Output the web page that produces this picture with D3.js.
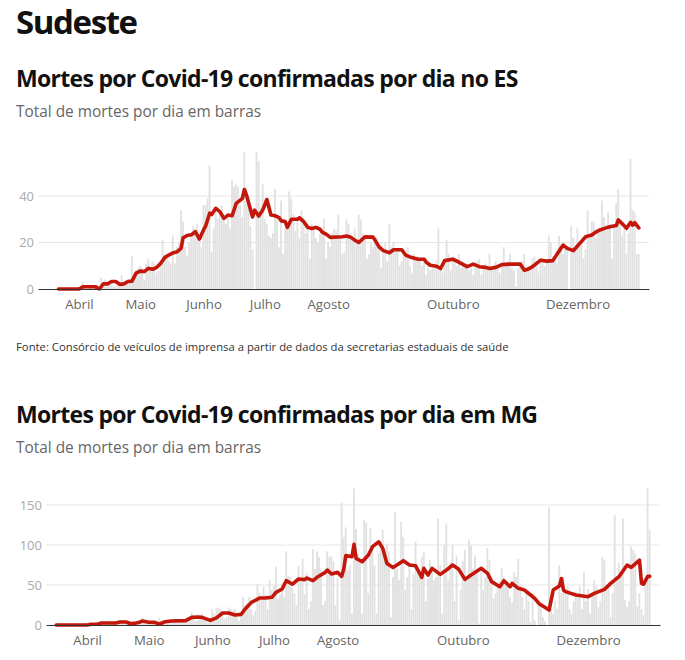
<!DOCTYPE html>
<html>
<head>
<meta charset="utf-8">
<script src="https://cdn.jsdelivr.net/npm/d3@7"></script>
<style>
  body { margin: 0; background: #fff; }
  text { font-family: "Open Sans", sans-serif; }
</style>
</head>
<body>
<script>
// mortes diarias (barras) e media movel (linha)
var esStart = [3, 22];
var esBars = [
  0,0,0,0,0,0,0,  0,0,0,0,1,3,1,  0,1,2,1,1,2,0,  5,1,4,2,3,2,1,
  1,2,2,6,3,2,4,  3,14,6,8,9,10,9,  4,11,13,9,12,11,7,  8,12,21,15,14,12,11,
  23,11,18,20,34,29,18,  14,20,24,27,26,28,22,  18,36,36,39,53,16,26,  35,30,33,36,31,28,30,
  26,47,44,45,44,36,31,  59,44,40,27,17,0,59,  55,35,45,30,28,23,22,  24,43,30,18,38,15,26,
  28,42,39,32,25,30,22,  34,31,24,28,13,28,26,  22,20,24,26,30,13,20,  18,24,26,25,32,22,15,
  16,30,28,24,22,26,20,  32,30,24,22,13,15,20,  18,20,22,17,9,16,20,  12,28,18,20,16,17,10,
  12,17,14,18,10,7,15,  12,14,13,10,12,6,11,  8,9,10,12,26,8,7,  11,21,15,8,14,12,10,
  15,9,12,11,10,8,9,  6,10,12,13,6,9,11,  9,15,10,8,12,9,7,  11,18,10,12,15,9,8,
  1,9,10,12,15,8,10,  9,13,14,12,7,11,13,  10,12,23,20,14,12,11,  23,17,15,19,18,0,27,
  22,18,26,20,19,13,17,  34,24,29,29,22,24,26,  38,31,25,33,28,13,28,  37,43,30,23,28,15,24,
  56,34,33,15,15
];
var esLine = [
  [3,22,0],[4,1,0],[4,2,0.4],[4,3,1],[4,9,1],[4,11,0],[4,13,2.2],[4,15,2.2],[4,17,3.2],[4,19,3.2],
  [4,21,2],[4,23,2.2],[4,25,3.2],[4,27,3.4],[4,29,6.8],[5,1,7.7],[5,3,7.5],[5,5,8.9],[5,7,8.5],
  [5,9,9.2],[5,11,11],[5,13,13.5],[5,15,14.6],[5,17,15.5],[5,19,16],[5,21,17.5],[5,22,22],
  [5,24,23],[5,26,23.3],[5,28,24.7],[5,30,21.5],[6,1,25.4],[6,2,27],[6,4,32.6],[6,5,32],
  [6,7,34.7],[6,9,33.3],[6,11,30.4],[6,13,31.8],[6,15,31.5],[6,17,36.8],[6,19,38.2],[6,20,39],
  [6,21,42.8],[6,22,40.4],[6,25,31],[6,26,33.9],[6,28,31.4],[6,30,34],[7,2,38.5],[7,4,31.8],
  [7,6,31.5],[7,8,30.7],[7,9,29.3],[7,11,29],[7,12,26.5],[7,14,30],[7,17,30],[7,18,30.6],
  [7,20,29],[7,22,26.5],[7,24,26],[7,26,26.5],[7,28,25.7],[7,29,24.5],[7,31,23.6],[8,2,22.2],
  [8,8,22.5],[8,10,22.8],[8,12,22.3],[8,14,21],[8,16,20],[8,19,22.4],[8,23,22.3],[8,26,18],
  [8,28,16.5],[8,31,15.6],[9,2,16.9],[9,6,16.9],[9,8,14.5],[9,10,13.8],[9,14,12.8],[9,17,12.8],
  [9,18,11.5],[9,20,10.2],[9,23,9.8],[9,25,8.8],[9,27,12.2],[10,1,12.8],[10,3,12],[10,5,11],
  [10,8,9.6],[10,11,10.7],[10,14,9.6],[10,17,9.3],[10,19,8.8],[10,22,9.3],[10,25,10.5],
  [10,29,10.7],[11,3,10.7],[11,5,8.1],[11,7,8.6],[11,9,9.6],[11,13,12.4],[11,16,12],[11,19,12.2],
  [11,21,15],[11,24,18.9],[11,26,17.5],[11,29,16.5],[12,1,18.5],[12,3,20.5],[12,5,22.5],
  [12,8,23.2],[12,10,24.5],[12,12,25.4],[12,15,26.3],[12,17,26.8],[12,20,27.3],[12,21,29.7],
  [12,23,28],[12,25,26.1],[12,27,28.7],[12,28,27.5],[12,29,28.5],[12,31,26.3]
];

var mgStart = [3, 17];
var mgBars = [
  0,0,0,0,0,0,0,  0,0,0,0,0,0,1,  1,0,0,2,1,1,0,  3,4,2,5,2,1,1,
  3,2,5,6,3,1,2,  4,2,3,1,2,5,3,  9,4,5,3,2,1,5,  2,9,3,2,1,3,4,
  6,5,8,4,3,5,6,  7,8,9,16,10,5,6,  12,14,10,8,3,4,20,  14,21,22,20,15,8,10,
  22,20,18,20,12,5,15,  35,25,28,35,20,12,18,  51,40,32,48,38,20,56,  44,50,73,33,38,52,35,
  92,62,60,48,40,25,74,  60,83,38,65,20,30,95,  70,92,85,69,25,30,92,  85,86,80,25,58,6,153,
  110,122,68,75,14,171,120,  89,80,14,131,128,40,121,  95,75,14,90,104,119,85,  102,92,10,60,141,70,56,
  129,110,44,60,77,20,64,  104,68,68,85,91,30,58,  81,70,56,60,133,75,14,  100,127,56,78,100,30,87,
  6,44,80,94,60,107,100,  70,87,65,2,70,44,60,  96,81,60,33,40,48,55,  71,60,55,52,35,28,66,
  60,83,50,35,20,44,30,  4,40,6,0,30,25,10,  5,0,147,20,14,30,20,  75,40,60,45,48,20,14,
  30,42,38,48,20,66,30,  45,14,40,56,48,22,30,  85,81,50,48,10,40,137,  60,77,65,133,31,23,30,
  98,94,89,23,40,20,12,  60,171,119
];
var mgLine = [
  [3,17,0],[4,1,0],[4,3,1],[4,6,1],[4,8,2.5],[4,15,2.5],[4,17,3.7],[4,20,3.7],[4,22,1.8],
  [4,24,2],[4,26,3],[4,28,5],[5,1,3.5],[5,4,3.3],[5,6,1],[5,9,4],[5,12,5],[5,19,5.5],[5,22,9.5],
  [5,25,10],[5,27,9.5],[5,31,5.8],[6,3,9],[6,6,15],[6,9,15],[6,12,12.5],[6,15,13.3],[6,17,20],
  [6,20,28.3],[6,24,33.7],[6,27,33.7],[6,30,34.6],[7,2,40.8],[7,5,45],[7,7,55.4],[7,10,51],
  [7,13,57.5],[7,16,56.7],[7,17,58.7],[7,20,55.4],[7,22,59.6],[7,26,65.8],[7,27,68.7],
  [7,29,63.7],[8,1,65.8],[8,3,60.8],[8,4,70],[8,5,86.7],[8,8,85.4],[8,9,101],[8,10,83.3],
  [8,13,79],[8,16,87.5],[8,18,97.9],[8,21,104],[8,23,95.8],[8,25,77],[8,28,72],[8,31,77],
  [9,2,80.4],[9,5,75],[9,8,74],[9,11,59.6],[9,12,70.8],[9,14,62.5],[9,16,70.8],[9,20,63.3],
  [9,23,68.7],[9,26,75],[9,29,69.6],[10,2,57],[10,5,62.5],[10,10,70.8],[10,13,64.6],
  [10,15,54.2],[10,19,47.9],[10,21,55.4],[10,24,47.9],[10,25,52],[10,28,45.8],[10,31,43.7],
  [11,3,37.5],[11,5,33.3],[11,7,27],[11,12,18.7],[11,14,43.7],[11,17,48.7],[11,18,58],
  [11,19,43.7],[11,20,41.7],[11,25,37.5],[12,1,35.4],[12,4,39.6],[12,9,44.6],[12,12,52],
  [12,16,60.4],[12,20,75],[12,22,72],[12,26,81],[12,27,52],[12,28,51],[12,30,60.8],[12,31,60.8]
];

var monthTicks = [[4,1],[5,1],[6,1],[7,1],[8,1],[10,1],[12,1]];
var monthLabels = ['Abril','Maio','Junho','Julho','Agosto','Outubro','Dezembro'];

var dt = function(m, d) { return new Date(Date.UTC(2020, m - 1, d)); };

var svg = d3.select('body').append('svg')
  .attr('width', 685).attr('height', 660);

svg.append('text').attr('x', 16).attr('y', 34)
  .style('font-size', '33px').style('font-weight', 700).style('letter-spacing', '-1.4px')
  .attr('fill', '#111').text('Sudeste');

var drawChart = function(o) {
  svg.append('text').attr('x', 16).attr('y', o.titleY)
    .style('font-size', '23px').style('font-weight', 700).style('letter-spacing', '-0.7px')
    .attr('fill', '#111').text(o.title);
  svg.append('text').attr('x', 16).attr('y', o.titleY + 30)
    .style('font-size', '15.4px').attr('fill', '#666').text('Total de mortes por dia em barras');

  var x = d3.scaleUtc().domain([dt(3, 12), dt(13, 5)]).range([o.left, o.right]);
  var y = d3.scaleLinear().domain([0, o.yMax]).range([o.bottom, o.top]);
  var step = x(dt(4, 2)) - x(dt(4, 1));

  var g = svg.append('g');

  // linhas de grade
  g.selectAll('line.grid').data(o.yTicks.slice(1)).enter().append('line')
    .attr('x1', o.left).attr('x2', o.right)
    .attr('y1', y).attr('y2', y)
    .attr('stroke', '#e6e6e6').attr('stroke-width', 1);

  var yAxis = d3.axisLeft(y).tickValues(o.yTicks).tickSize(0).tickPadding(4);
  g.append('g').attr('transform', 'translate(' + o.left + ',0)').call(yAxis)
    .call(function(s) { s.select('.domain').remove(); })
    .selectAll('text').style('font-size', '13px').attr('fill', '#aaa')
    .style('font-family', '"Open Sans", sans-serif');

  var bars = o.bars.map(function(v, i) {
    return { date: dt(o.start[0], o.start[1] + i), v: v };
  });
  g.selectAll('rect.bar').data(bars).enter().append('rect')
    .attr('x', function(d) { return x(d.date) - step / 2; })
    .attr('width', step - 0.2)
    .attr('y', function(d) { return y(d.v); })
    .attr('height', function(d) { return o.bottom - y(d.v); })
    .attr('fill', '#e1e1e1');

  var line = d3.line()
    .x(function(d) { return x(dt(d[0], d[1])); })
    .y(function(d) { return y(d[2]); });
  g.append('path').datum(o.line)
    .attr('d', line)
    .attr('fill', 'none').attr('stroke', '#c4170c')
    .attr('stroke-width', 3.6).attr('stroke-linejoin', 'round').attr('stroke-linecap', 'round');

  var xAxis = d3.axisBottom(x)
    .tickValues(monthTicks.map(function(t) { return dt(t[0], t[1]); }))
    .tickSize(0).tickPadding(11)
    .tickFormat(function(d, i) { return monthLabels[i]; });
  var ax = g.append('g').attr('transform', 'translate(0,' + o.bottom + ')').call(xAxis);
  ax.select('.domain').attr('stroke', '#333').attr('stroke-width', 1.2);
  ax.selectAll('text').style('font-size', '13.2px').attr('fill', '#666')
    .style('font-family', '"Open Sans", sans-serif');
};

drawChart({
  title: 'Mortes por Covid-19 confirmadas por dia no ES', titleY: 87,
  left: 38, right: 649, top: 149.5, bottom: 289, yMax: 60, yTicks: [0, 20, 40],
  start: esStart, bars: esBars, line: esLine
});

svg.append('text').attr('x', 16).attr('y', 351)
  .style('font-size', '11.3px').attr('fill', '#333')
  .text('Fonte: Consórcio de veículos de imprensa a partir de dados da secretarias estaduais de saúde');

drawChart({
  title: 'Mortes por Covid-19 confirmadas por dia em MG', titleY: 423,
  left: 46, right: 660, top: 485, bottom: 625, yMax: 175, yTicks: [0, 50, 100, 150],
  start: mgStart, bars: mgBars, line: mgLine
});
</script>
</body>
</html>
